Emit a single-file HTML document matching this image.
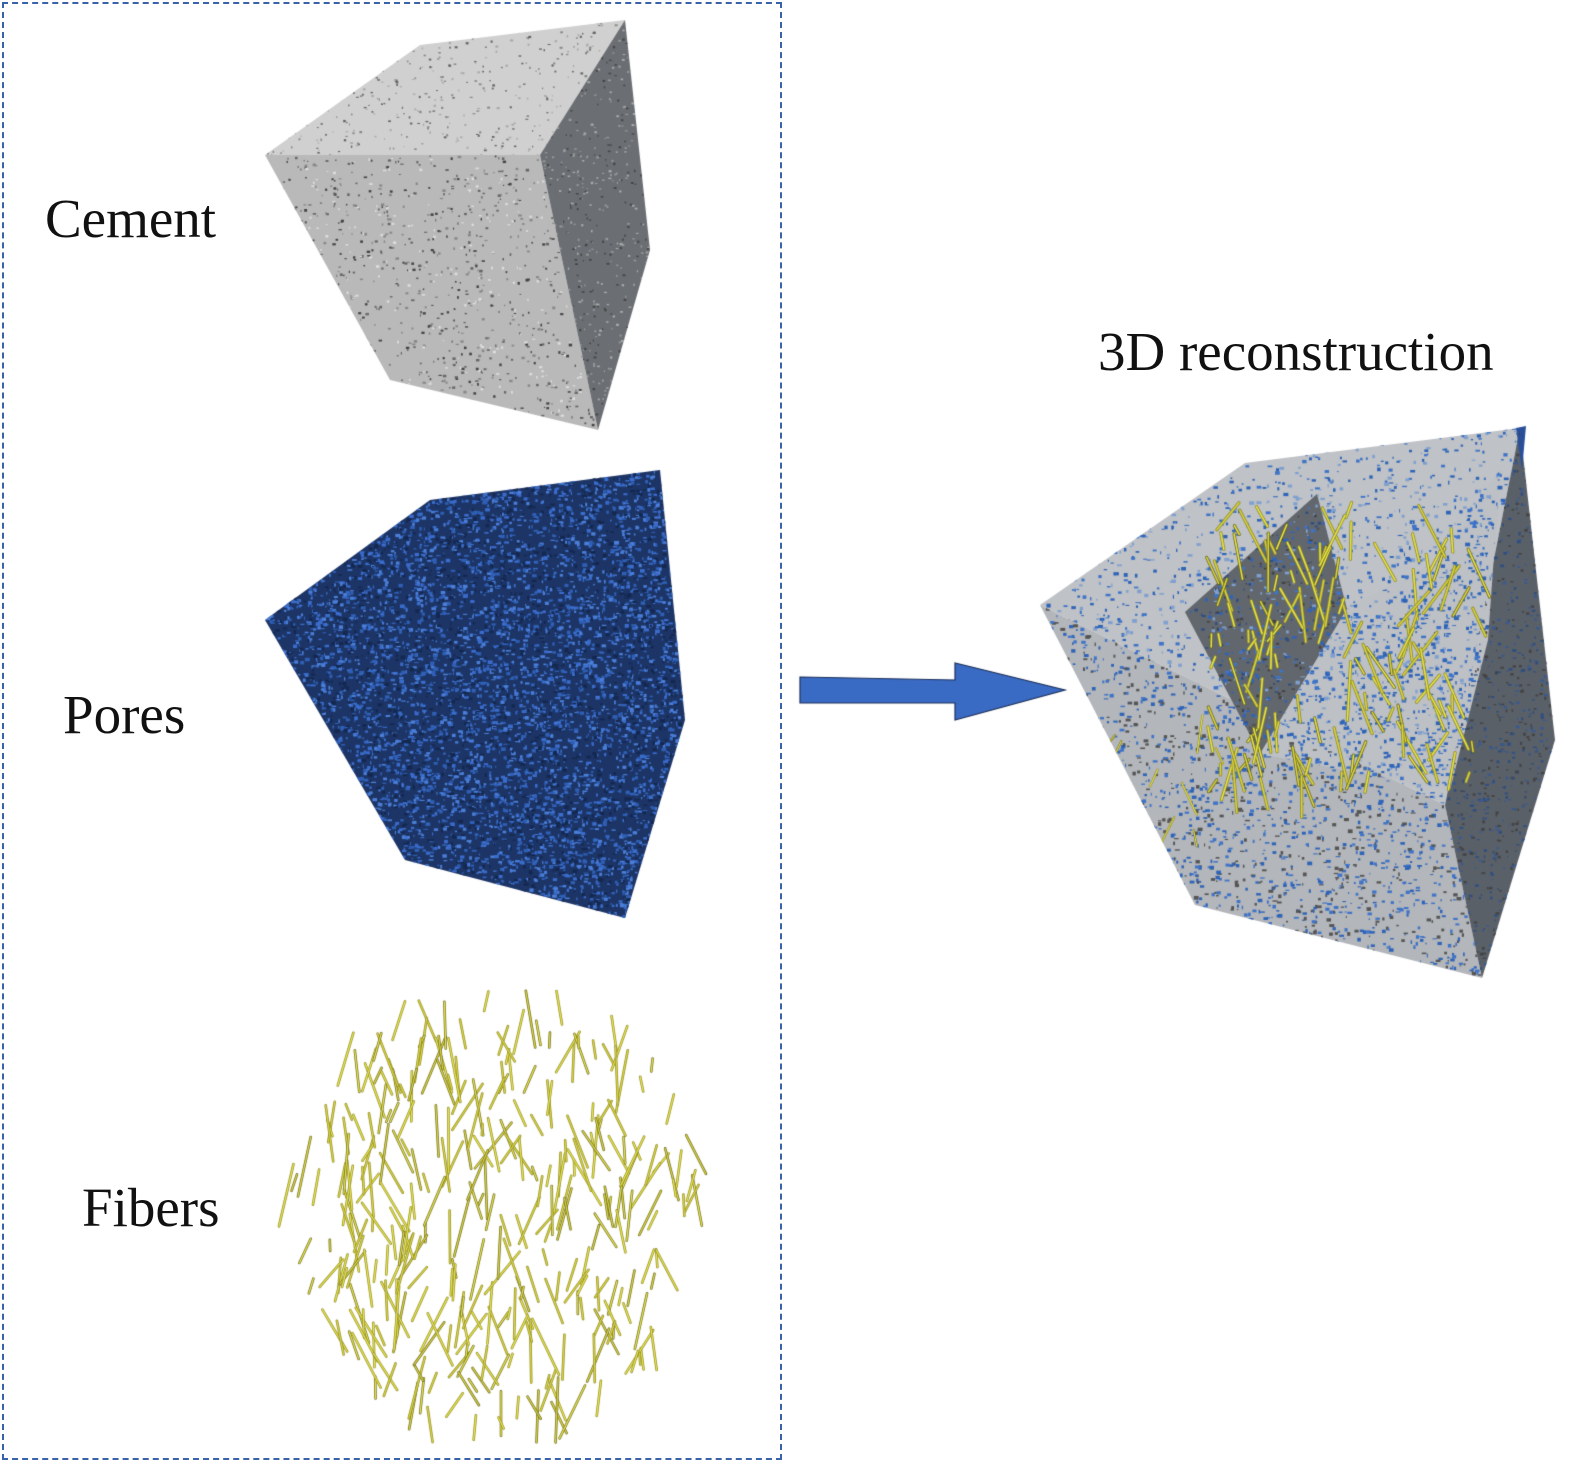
<!DOCTYPE html>
<html><head><meta charset="utf-8">
<style>
html,body{margin:0;padding:0;background:#fff;}
body{width:1577px;height:1468px;position:relative;overflow:hidden;}
canvas{position:absolute;left:0;top:0;}
.t{position:absolute;font-family:"Liberation Serif",serif;font-size:55px;color:#111;white-space:nowrap;line-height:1;}
.box{position:absolute;left:2px;top:2px;width:776px;height:1454px;border:2px dashed #3a62a8;}
</style></head><body>
<canvas id="c" width="1577" height="1468"></canvas>
<div class="box"></div>
<div class="t" style="left:45px;top:191px;">Cement</div>
<div class="t" style="left:63px;top:687px;">Pores</div>
<div class="t" style="left:82px;top:1180px;">Fibers</div>
<div class="t" style="left:1098px;top:324px;">3D reconstruction</div>
<script>
(function(){
var c=document.getElementById('c'),g=c.getContext('2d');
var s=12345;function r(){s=(s*16807)%2147483647;return s/2147483647;}
function poly(p,fill){g.beginPath();g.moveTo(p[0][0],p[0][1]);for(var i=1;i<p.length;i++)g.lineTo(p[i][0],p[i][1]);g.closePath();if(fill){g.fillStyle=fill;g.fill();}}
function speck(p,n,cols,sz){g.save();poly(p);g.clip();var xs=p.map(function(a){return a[0];}),ys=p.map(function(a){return a[1];});var x0=Math.min.apply(null,xs),x1=Math.max.apply(null,xs),y0=Math.min.apply(null,ys),y1=Math.max.apply(null,ys);for(var i=0;i<n;i++){g.fillStyle=cols[Math.floor(r()*cols.length)];var w=1+r()*sz,h=1+r()*sz*0.7;g.fillRect(x0+r()*(x1-x0),y0+r()*(y1-y0),w,h);}g.restore();}
var ctop=[[265,155],[420,45],[625,20],[540,155]],cfront=[[265,155],[540,155],[598,430],[390,380]],cright=[[540,155],[625,20],[650,250],[598,430]];
poly(ctop,'#d0d0d0');poly(cfront,'#b9b9b9');poly(cright,'#6b6f74');
speck(ctop,500,['#888','#aaa','#666'],2);speck(cfront,1200,['#666','#888','#444','#ddd'],2.5);speck(cright,700,['#999','#aaa','#444'],2);
var pores=[[265,620],[430,500],[660,470],[685,720],[625,918],[405,860]];
poly(pores,'#1d3566');speck(pores,9000,['#2f5fb5','#3a6ccc','#142850','#4a7ed8'],4);
function fibers(x0,y0,w,h,n,lenMax,clipFn,lw){lw=lw||1;for(var i=0;i<n;i++){var x=x0+r()*w,y=y0+r()*h;if(clipFn&&!clipFn(x,y)){continue;}var a=1.0+r()*1.3,L=10+r()*lenMax;var dx=Math.cos(a)*L,dy=Math.sin(a)*L;if(r()<0.5){dx=-dx*0.8;}g.lineCap='round';g.strokeStyle=r()<0.3?'#6b6a20':'#8f8c2a';g.lineWidth=2.6*lw;g.beginPath();g.moveTo(x,y);g.lineTo(x+dx,y+dy);g.stroke();g.strokeStyle=r()<0.5?'#e6e24a':'#d8d240';g.lineWidth=1.3*lw;g.beginPath();g.moveTo(x,y);g.lineTo(x+dx,y+dy);g.stroke();}}
fibers(290,975,420,460,420,55,function(x,y){var dx=(x-495)/205,dy=(y-1195)/225;return dx*dx+dy*dy<1;});
poly([[800,677],[955,680],[955,663],[1065,690],[955,720],[955,703],[800,703]],'#3a6bc4');g.strokeStyle='#1a2e5a';g.lineWidth=1.2;g.stroke();
var PL=[1040,605],PTL=[1245,463],PTR=[1520,428],PR=[1555,740],PB=[1482,978],PBL=[1195,905],PF=[1445,805];
var rt=[PL,PTL,PTR,PF],rf=[PL,PF,PB,PBL],rr=[PTR,PR,PB,PF];
poly(rt,'#bfc2c6');poly(rf,'#b3b6ba');poly(rr,'#5a6068');
poly([[1516,428],[1526,426],[1522,470]],'#2a4f9a');
var wall=[[1185,612],[1317,494],[1347,609],[1260,754]];poly(wall,'#62676e');
var floor=[[1260,754],[1347,609],[1440,560],[1500,470],[1488,640],[1450,790]];poly(floor,'#bdc0c4');
speck(rt,2200,['#3f74c8','#2f64b8','#7fa0d0'],4);speck(rf,2800,['#3f74c8','#2f64b8','#555'],4);speck(rr,1200,['#2f4f80','#3a5a90','#444'],3);speck(wall,400,['#2f4f80','#444'],3);speck(floor,900,['#3f74c8','#2f64b8'],4);
s=777;
g.save();poly([PL,PTL,PTR,PR,PB,PBL]);g.clip();
fibers(1205,500,270,280,130,50,function(x,y){return true;},1.2);
g.restore();
g.save();poly(rf);g.clip();fibers(1070,620,150,250,12,30,null,0.8);g.restore();
})();
</script>
</body></html>
